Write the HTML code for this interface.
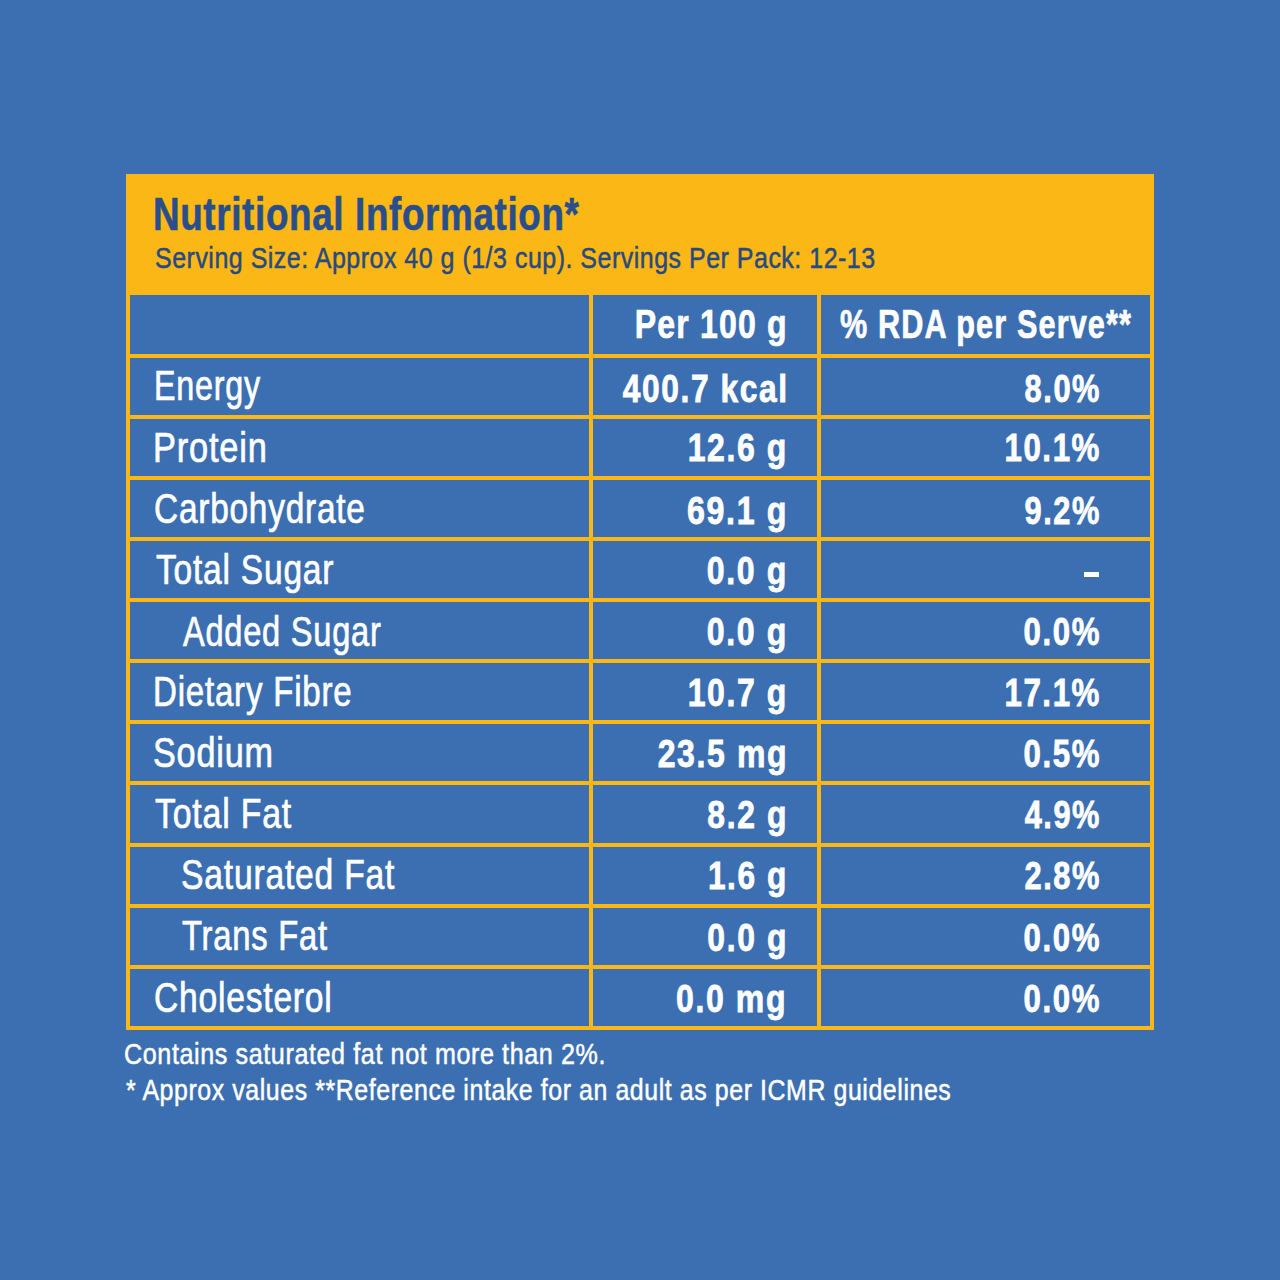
<!DOCTYPE html>
<html><head><meta charset="utf-8"><style>
html,body{margin:0;padding:0}
body{width:1280px;height:1280px;background:#3c6fb1;position:relative;overflow:hidden;font-family:"Liberation Sans",sans-serif}
.t{position:absolute;white-space:nowrap;line-height:1}
.y{position:absolute;background:#fbb715}
</style></head><body>

<div class="y" style="left:126px;top:174px;width:1028px;height:121px"></div>
<div class="y" style="left:126px;top:174px;width:4px;height:856px"></div>
<div class="y" style="left:1150px;top:174px;width:4px;height:856px"></div>
<div class="y" style="left:589px;top:293px;width:4px;height:737px"></div>
<div class="y" style="left:817px;top:293px;width:4px;height:737px"></div>
<div class="y" style="left:126px;top:353.60px;width:1028px;height:4px"></div>
<div class="y" style="left:126px;top:414.72px;width:1028px;height:4px"></div>
<div class="y" style="left:126px;top:475.84px;width:1028px;height:4px"></div>
<div class="y" style="left:126px;top:536.96px;width:1028px;height:4px"></div>
<div class="y" style="left:126px;top:598.08px;width:1028px;height:4px"></div>
<div class="y" style="left:126px;top:659.20px;width:1028px;height:4px"></div>
<div class="y" style="left:126px;top:720.32px;width:1028px;height:4px"></div>
<div class="y" style="left:126px;top:781.44px;width:1028px;height:4px"></div>
<div class="y" style="left:126px;top:842.56px;width:1028px;height:4px"></div>
<div class="y" style="left:126px;top:903.68px;width:1028px;height:4px"></div>
<div class="y" style="left:126px;top:964.80px;width:1028px;height:4px"></div>
<div class="y" style="left:126px;top:1025.92px;width:1028px;height:4px"></div>
<div class="t" style="left:152.76px;top:191.46px;font-size:46px;-webkit-text-stroke:0.6px #284f8c;letter-spacing:0.8px;font-weight:700;color:#284f8c;transform:scaleX(0.8005);transform-origin:0 0">Nutritional Information*</div>
<div class="t" style="left:154.71px;top:242.74px;font-size:30.2px;-webkit-text-stroke:0.5px #274a80;letter-spacing:0.6px;font-weight:400;color:#274a80;transform:scaleX(0.8278);transform-origin:0 0">Serving Size: Approx 40 g (1/3 cup). Servings Per Pack: 12-13</div>
<div class="t" style="right:491.88px;top:303.59px;font-size:41px;-webkit-text-stroke:0.7px #fff;letter-spacing:1.5px;font-weight:700;color:#fff;transform:scaleX(0.7815);transform-origin:100% 0">Per 100 g</div>
<div class="t" style="left:840.07px;top:303.59px;font-size:41px;-webkit-text-stroke:0.7px #fff;letter-spacing:1.5px;font-weight:700;color:#fff;transform:scaleX(0.7473);transform-origin:0 0">% RDA per Serve**</div>
<div class="t" style="left:154.19px;top:364.76px;font-size:42.1px;-webkit-text-stroke:0.7px #fff;letter-spacing:1.0px;font-weight:400;color:#fff;transform:scaleX(0.7663);transform-origin:0 0">Energy</div>
<div class="t" style="right:491.42px;top:368.56px;font-size:39.5px;-webkit-text-stroke:0.8px #fff;letter-spacing:2.0px;font-weight:700;color:#fff;transform:scaleX(0.8025);transform-origin:100% 0">400.7 kcal</div>
<div class="t" style="right:179.02px;top:368.56px;font-size:39.5px;-webkit-text-stroke:0.8px #fff;letter-spacing:2.0px;font-weight:700;color:#fff;transform:scaleX(0.7801);transform-origin:100% 0">8.0%</div>
<div class="t" style="left:153.01px;top:426.96px;font-size:42.1px;-webkit-text-stroke:0.7px #fff;letter-spacing:1.0px;font-weight:400;color:#fff;transform:scaleX(0.8170);transform-origin:0 0">Protein</div>
<div class="t" style="right:492.39px;top:428.28px;font-size:39.5px;-webkit-text-stroke:0.8px #fff;letter-spacing:2.0px;font-weight:700;color:#fff;transform:scaleX(0.8091);transform-origin:100% 0">12.6 g</div>
<div class="t" style="right:179.04px;top:428.28px;font-size:39.5px;-webkit-text-stroke:0.8px #fff;letter-spacing:2.0px;font-weight:700;color:#fff;transform:scaleX(0.7918);transform-origin:100% 0">10.1%</div>
<div class="t" style="left:154.02px;top:487.76px;font-size:42.1px;-webkit-text-stroke:0.7px #fff;letter-spacing:1.0px;font-weight:400;color:#fff;transform:scaleX(0.7925);transform-origin:0 0">Carbohydrate</div>
<div class="t" style="right:492.40px;top:490.90px;font-size:39.5px;-webkit-text-stroke:0.8px #fff;letter-spacing:2.0px;font-weight:700;color:#fff;transform:scaleX(0.8142);transform-origin:100% 0">69.1 g</div>
<div class="t" style="right:179.02px;top:490.90px;font-size:39.5px;-webkit-text-stroke:0.8px #fff;letter-spacing:2.0px;font-weight:700;color:#fff;transform:scaleX(0.7802);transform-origin:100% 0">9.2%</div>
<div class="t" style="left:155.73px;top:549.26px;font-size:42.1px;-webkit-text-stroke:0.7px #fff;letter-spacing:1.0px;font-weight:400;color:#fff;transform:scaleX(0.7958);transform-origin:0 0">Total Sugar</div>
<div class="t" style="right:492.39px;top:551.12px;font-size:39.5px;-webkit-text-stroke:0.8px #fff;letter-spacing:2.0px;font-weight:700;color:#fff;transform:scaleX(0.8113);transform-origin:100% 0">0.0 g</div>
<div style="position:absolute;left:1084px;top:572px;width:15px;height:5px;background:#fff"></div>
<div class="t" style="left:183.29px;top:610.96px;font-size:42.1px;-webkit-text-stroke:0.7px #fff;letter-spacing:1.0px;font-weight:400;color:#fff;transform:scaleX(0.7733);transform-origin:0 0">Added Sugar</div>
<div class="t" style="right:492.39px;top:612.24px;font-size:39.5px;-webkit-text-stroke:0.8px #fff;letter-spacing:2.0px;font-weight:700;color:#fff;transform:scaleX(0.8113);transform-origin:100% 0">0.0 g</div>
<div class="t" style="right:179.03px;top:612.24px;font-size:39.5px;-webkit-text-stroke:0.8px #fff;letter-spacing:2.0px;font-weight:700;color:#fff;transform:scaleX(0.7898);transform-origin:100% 0">0.0%</div>
<div class="t" style="left:153.05px;top:671.46px;font-size:42.1px;-webkit-text-stroke:0.7px #fff;letter-spacing:1.0px;font-weight:400;color:#fff;transform:scaleX(0.7855);transform-origin:0 0">Dietary Fibre</div>
<div class="t" style="right:492.39px;top:673.36px;font-size:39.5px;-webkit-text-stroke:0.8px #fff;letter-spacing:2.0px;font-weight:700;color:#fff;transform:scaleX(0.8091);transform-origin:100% 0">10.7 g</div>
<div class="t" style="right:179.04px;top:673.36px;font-size:39.5px;-webkit-text-stroke:0.8px #fff;letter-spacing:2.0px;font-weight:700;color:#fff;transform:scaleX(0.7918);transform-origin:100% 0">17.1%</div>
<div class="t" style="left:153.24px;top:732.36px;font-size:42.1px;-webkit-text-stroke:0.7px #fff;letter-spacing:1.0px;font-weight:400;color:#fff;transform:scaleX(0.8117);transform-origin:0 0">Sodium</div>
<div class="t" style="right:492.34px;top:734.48px;font-size:39.5px;-webkit-text-stroke:0.8px #fff;letter-spacing:2.0px;font-weight:700;color:#fff;transform:scaleX(0.8093);transform-origin:100% 0">23.5 mg</div>
<div class="t" style="right:179.03px;top:734.48px;font-size:39.5px;-webkit-text-stroke:0.8px #fff;letter-spacing:2.0px;font-weight:700;color:#fff;transform:scaleX(0.7898);transform-origin:100% 0">0.5%</div>
<div class="t" style="left:155.00px;top:792.86px;font-size:42.1px;-webkit-text-stroke:0.7px #fff;letter-spacing:1.0px;font-weight:400;color:#fff;transform:scaleX(0.8036);transform-origin:0 0">Total Fat</div>
<div class="t" style="right:492.42px;top:794.80px;font-size:39.5px;-webkit-text-stroke:0.8px #fff;letter-spacing:2.0px;font-weight:700;color:#fff;transform:scaleX(0.8065);transform-origin:100% 0">8.2 g</div>
<div class="t" style="right:179.03px;top:794.80px;font-size:39.5px;-webkit-text-stroke:0.8px #fff;letter-spacing:2.0px;font-weight:700;color:#fff;transform:scaleX(0.7794);transform-origin:100% 0">4.9%</div>
<div class="t" style="left:180.61px;top:853.96px;font-size:42.1px;-webkit-text-stroke:0.7px #fff;letter-spacing:1.0px;font-weight:400;color:#fff;transform:scaleX(0.7992);transform-origin:0 0">Saturated Fat</div>
<div class="t" style="right:492.41px;top:855.82px;font-size:39.5px;-webkit-text-stroke:0.8px #fff;letter-spacing:2.0px;font-weight:700;color:#fff;transform:scaleX(0.8007);transform-origin:100% 0">1.6 g</div>
<div class="t" style="right:179.02px;top:855.82px;font-size:39.5px;-webkit-text-stroke:0.8px #fff;letter-spacing:2.0px;font-weight:700;color:#fff;transform:scaleX(0.7802);transform-origin:100% 0">2.8%</div>
<div class="t" style="left:182.44px;top:915.06px;font-size:42.1px;-webkit-text-stroke:0.7px #fff;letter-spacing:1.0px;font-weight:400;color:#fff;transform:scaleX(0.7782);transform-origin:0 0">Trans Fat</div>
<div class="t" style="right:492.45px;top:917.84px;font-size:39.5px;-webkit-text-stroke:0.8px #fff;letter-spacing:2.0px;font-weight:700;color:#fff;transform:scaleX(0.8067);transform-origin:100% 0">0.0 g</div>
<div class="t" style="right:179.03px;top:917.84px;font-size:39.5px;-webkit-text-stroke:0.8px #fff;letter-spacing:2.0px;font-weight:700;color:#fff;transform:scaleX(0.7898);transform-origin:100% 0">0.0%</div>
<div class="t" style="left:154.01px;top:977.06px;font-size:42.1px;-webkit-text-stroke:0.7px #fff;letter-spacing:1.0px;font-weight:400;color:#fff;transform:scaleX(0.7974);transform-origin:0 0">Cholesterol</div>
<div class="t" style="right:492.38px;top:978.96px;font-size:39.5px;-webkit-text-stroke:0.8px #fff;letter-spacing:2.0px;font-weight:700;color:#fff;transform:scaleX(0.8105);transform-origin:100% 0">0.0 mg</div>
<div class="t" style="right:179.03px;top:978.96px;font-size:39.5px;-webkit-text-stroke:0.8px #fff;letter-spacing:2.0px;font-weight:700;color:#fff;transform:scaleX(0.7898);transform-origin:100% 0">0.0%</div>
<div class="t" style="left:124.29px;top:1039.03px;font-size:29.5px;-webkit-text-stroke:0.5px #fff;letter-spacing:0.7px;font-weight:400;color:#fff;transform:scaleX(0.8519);transform-origin:0 0">Contains saturated fat not more than 2%.</div>
<div class="t" style="left:125.94px;top:1074.83px;font-size:29.5px;-webkit-text-stroke:0.5px #fff;letter-spacing:0.7px;font-weight:400;color:#fff;transform:scaleX(0.8433);transform-origin:0 0">* Approx values **Reference intake for an adult as per ICMR guidelines</div>
</body></html>
